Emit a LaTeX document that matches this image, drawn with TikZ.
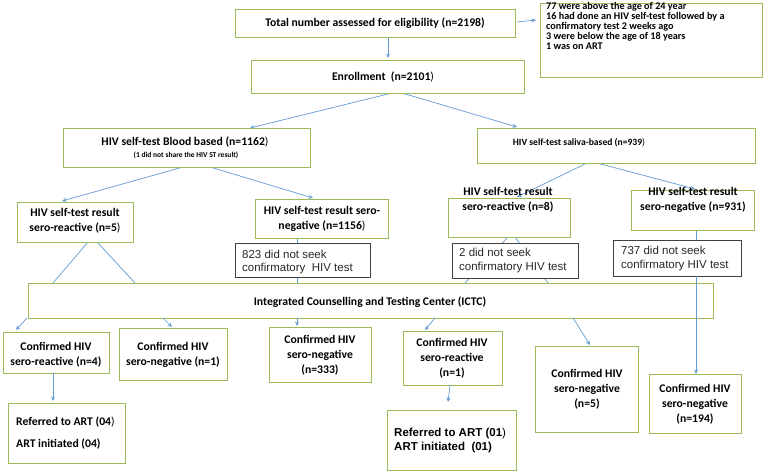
\documentclass[tikz,border=0pt]{standalone}
\usepackage{fontspec}
\setmainfont{Carlito}
\newfontfamily\arialf{Liberation Sans}
\usetikzlibrary{arrows.meta,calc,backgrounds}
\definecolor{gbox}{RGB}{155,187,89}
\definecolor{conn}{RGB}{100,155,210}
\definecolor{kbox}{RGB}{64,64,64}
\definecolor{ktext}{RGB}{40,40,40}
\begin{document}
\begin{tikzpicture}[x=1pt,y=-1pt,
  gb/.style={draw=gbox,line width=0.8pt,fill=white,inner sep=0pt,outer sep=0pt},
  kb/.style={draw=kbox,line width=0.9pt,fill=white,inner sep=0pt,outer sep=0pt},
  tx/.style={inner sep=0pt,font=\fontsize{11.7}{15}\selectfont\bfseries,align=center},
  tl/.style={inner sep=0pt,font=\fontsize{10.2}{10}\selectfont\bfseries,align=left,anchor=west},
  ta/.style={inner sep=0pt,font=\arialf\fontsize{11.5}{13.5}\selectfont,text=ktext,align=left,anchor=west},
  ln/.style={draw=conn,line width=0.7pt},
  ar/.style={ln,-{Stealth[length=4.5pt,width=4pt]}},
]
\useasboundingbox (0,0) rectangle (767,473);
% boxes
\node[gb,minimum width=280pt,minimum height=28pt] (b1) at (375,23) {};
\node[gb,minimum width=222pt,minimum height=74pt] (b2) at (651,40) {};
\node[gb,minimum width=273pt,minimum height=33pt] (b3) at (387.5,76.5) {};
\node[gb,minimum width=247pt,minimum height=39pt] (b4) at (186.5,147.5) {};
\node[gb,minimum width=278pt,minimum height=35pt] (b5) at (616,145.5) {};
\node[gb,minimum width=116pt,minimum height=40pt] (b6) at (75,222) {};
\node[gb,minimum width=133pt,minimum height=39pt] (b7) at (321.5,218.5) {};
\node[gb,minimum width=122pt,minimum height=39pt] (b8) at (509,217.5) {};
\node[gb,minimum width=123pt,minimum height=40pt] (b9) at (692.5,210) {};
\node[kb,minimum width=135pt,minimum height=34pt] (b10) at (302.5,260) {};
\node[kb,minimum width=126pt,minimum height=35pt] (b11) at (515,260.5) {};
\node[kb,minimum width=128pt,minimum height=36pt] (b12) at (677,258) {};
\node[gb,minimum width=685pt,minimum height=35pt] (b13) at (370.5,300.5) {};
\node[gb,minimum width=106pt,minimum height=41pt] (b14) at (56,352.5) {};
\node[gb,minimum width=108pt,minimum height=52pt] (b15) at (173,354) {};
\node[gb,minimum width=102pt,minimum height=55pt] (b16) at (320,354.5) {};
\node[gb,minimum width=99pt,minimum height=54pt] (b17) at (452.5,358) {};
\node[gb,minimum width=103pt,minimum height=86pt] (b18) at (586.5,389) {};
\node[gb,minimum width=92pt,minimum height=59pt] (b19) at (695,403.5) {};
\node[gb,minimum width=117pt,minimum height=60pt] (b20) at (66.5,433) {};
\node[gb,minimum width=129pt,minimum height=60pt] (b21) at (451.5,440) {};
% connectors behind boxes
\begin{scope}[on background layer]
\fill[white] (0,0) rectangle (767,473);
\draw[ar] ([xshift=13pt]b1.south) -- ([xshift=0.5pt,yshift=2pt]b3.north);
\draw[ar] ([xshift=2pt,yshift=1pt]b1.east) -- ($(b2.north west)+(-4,17)$);
\draw[ar] ([xshift=4.5pt]b3.south) -- ([xshift=63.5pt]b4.north);
\draw[ar] ([xshift=14.5pt]b3.south) -- ([xshift=-99pt,yshift=1pt]b5.north);
\draw[ar] ([xshift=-3.5pt]b4.south) -- ([xshift=-13pt,yshift=1pt]b6.north);
\draw[ar] ([xshift=23.5pt]b4.south) -- ([xshift=-8.5pt,yshift=1pt]b7.north);
\draw[ar] ([xshift=-29pt]b5.south) -- ([xshift=8pt,yshift=1pt]b8.north);
\draw[ar] ([xshift=-19pt]b5.south) -- ([xshift=2.5pt,yshift=1pt]b9.north);
\draw[ln] ([xshift=13pt]b6.south) -- ($(b13.north west)+(25,0)$);
\draw[ln] ([xshift=22pt]b6.south) -- ($(b13.north west)+(107,0)$);
\draw[ln] ([xshift=-24.5pt]b7.south) -- ([xshift=-5.5pt]b10.north);
\draw[ln] ([xshift=-5.5pt]b10.south) -- ($(b13.north west)+(269,0)$);
\draw[ln] ([xshift=-1pt]b8.south) -- ($(b13.north west)+(437,0)$);
\draw[ln] ([xshift=6pt]b8.south) -- ($(b13.north west)+(520,0)$);
\draw[ln] ([xshift=3.5pt]b9.south) -- ([xshift=19pt]b12.north);
\end{scope}
\draw[ar] ($(b13.south west)+(-1,0)$) -- ([xshift=-40pt,yshift=2pt]b14.north);
\draw[ar] ($(b13.south west)+(135,0)$) -- ([xshift=-1pt,yshift=1pt]b15.north);
\draw[ar] ($(b13.south west)+(269,0)$) -- ([xshift=-23pt,yshift=1pt]b16.north);
\draw[ar] ($(b13.south west)+(407,0)$) -- ([xshift=-27.5pt,yshift=1pt]b17.north);
\draw[ar] ($(b13.south west)+(545,0)$) -- ([xshift=3.5pt,yshift=1pt]b18.north);
\draw[ar] ([xshift=19pt]b12.south) -- ([xshift=1pt]b19.north);
\draw[ar] ([xshift=-3pt]b14.south) -- ([xshift=-13.5pt,yshift=2pt]b20.north);
\draw[ar] ([xshift=-2.5pt]b17.south) -- ([xshift=-3.5pt,yshift=8pt]b21.north);
% texts
\node[tx] (t1) at (375,23) {Total number assessed for eligibility (n=2198)};
\node[tl] (t2) at (546,25.7) {77 were above the age of 24 year\\16 had done an HIV self-test followed by a\\confirmatory test 2 weeks ago\\3 were below the age of 18 years\\1 was on ART};
\node[tx] (t3) at (383,77) {Enrollment~ (n=2101\textmd{)}};
\node[tx] (t4a) at (185,142) {HIV self-test Blood based (n=1162\textmd{)}};
\node[tx,font=\fontsize{7.5}{8}\selectfont\bfseries] (t4b) at (186,155) {(1 did not share the HIV ST result)};
\node[tx,font=\fontsize{9.6}{11}\selectfont\bfseries] (t5) at (579,143) {HIV self-test saliva-based (n=939\textmd{)}};
\node[tx] (t6) at (75,220.5) {HIV self-test result\\sero-reactive (n=5\textmd{)}};
\node[tx] (t7) at (322,218.5) {HIV self-test result sero-\\negative (n=1156\textmd{)}};
\node[tx] (t8) at (508,199.5) {HIV self-test result\\sero-reactive (n=8)};
\node[tx] (t9) at (693,199.5) {HIV self-test result\\sero-negative (n=931)};
\node[ta] (t10) at (242,262) {823 did not seek\\confirmatory~ HIV test};
\node[ta] (t11) at (459,260.5) {2 did not seek\\confirmatory HIV test};
\node[ta] (t12) at (621,258.5) {737 did not seek\\confirmatory HIV test};
\node[tx] (t13) at (370,302) {Integrated Counselling and Testing Center (ICTC)};
\node[tx] (t14) at (56,354.5) {Confirmed HIV\\sero-reactive (n=4)};
\node[tx] (t15) at (173,355) {Confirmed HIV\\sero-negative (n=1)};
\node[tx] (t16) at (320,355) {Confirmed HIV\\sero-negative\\(n=333)};
\node[tx] (t17) at (452,358) {Confirmed HIV\\sero-reactive\\(n=1)};
\node[tx] (t18) at (587,389) {Confirmed HIV\\sero-negative\\(n=5)};
\node[tx] (t19) at (695,404) {Confirmed HIV\\sero-negative\\(n=194)};
\node[tx,align=left,anchor=west,font=\fontsize{11.7}{22}\selectfont\bfseries] (t20) at (16,433) {Referred to ART (04\textmd{)}\\ART initiated (04)};
\node[tx,align=left,anchor=west,font=\arialf\fontsize{11.5}{14}\selectfont\bfseries] (t21) at (394,441) {Referred to ART (01\textmd{)}\\ART initiated~ (01)};
\end{tikzpicture}
\end{document}
